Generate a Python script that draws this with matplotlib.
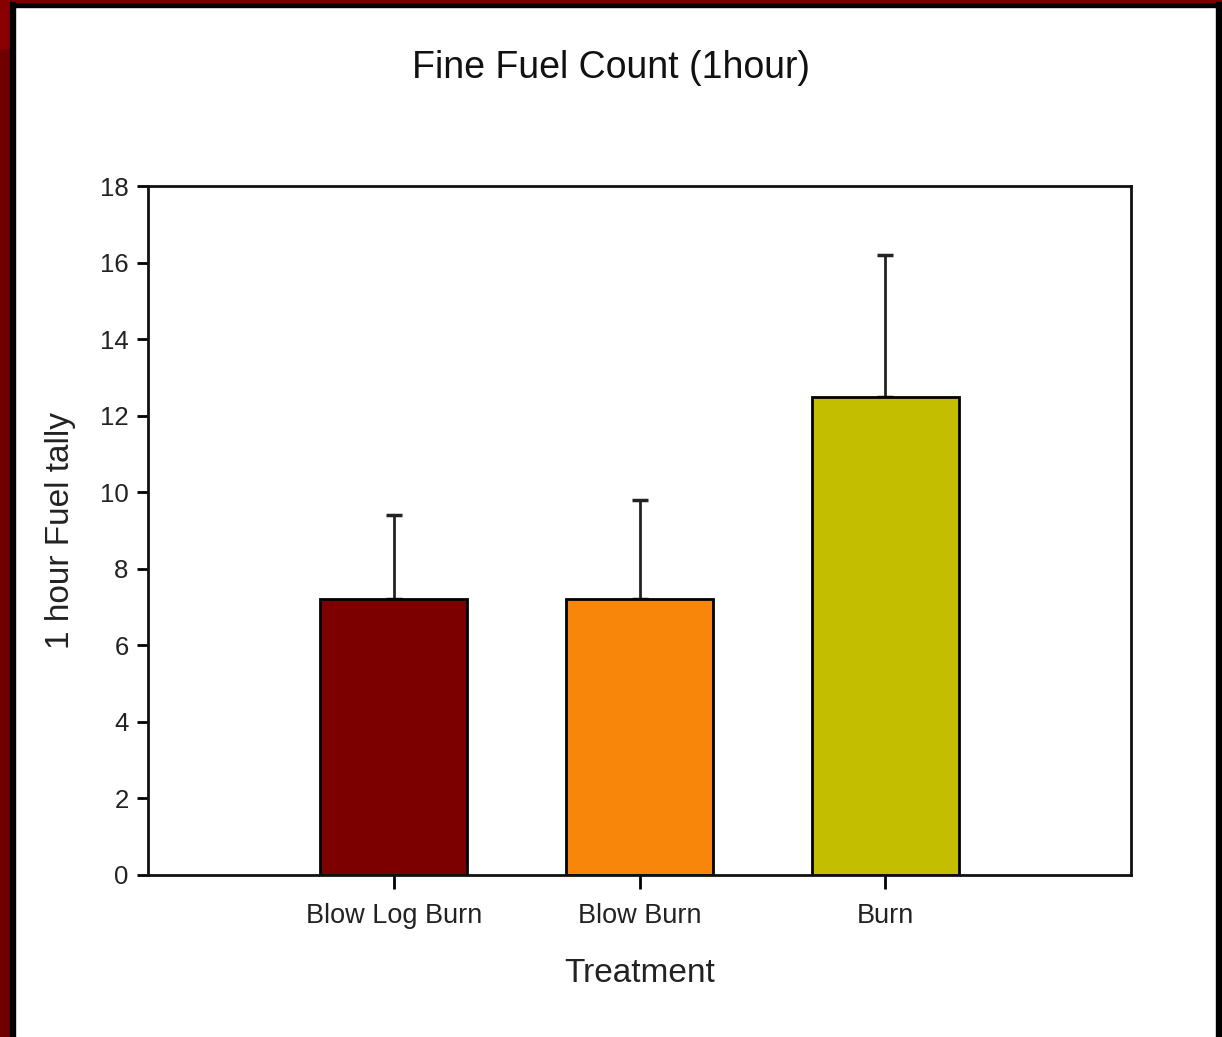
import matplotlib
matplotlib.use('Agg')
import matplotlib.pyplot as plt
from matplotlib.patches import Rectangle

treatments = ['Blow Log Burn', 'Blow Burn', 'Burn']
tally_mean = [7.2, 7.2, 12.5]
tally_err = [2.2, 2.6, 3.7]
bar_colors = ['#7d0000', '#f8860a', '#c3bf00']
y_ticks = [0, 2, 4, 6, 8, 10, 12, 14, 16, 18]

plt.rcParams['font.family'] = ['Liberation Sans', 'DejaVu Sans']

W, H = 1222, 1037
fig = plt.figure(figsize=(W / 100, H / 100), dpi=100, facecolor='white')
ax = fig.add_axes([148 / W, 1 - 875 / H, (1131 - 148) / W, (875 - 186) / H])

x = list(range(len(treatments)))
ax.bar(x, tally_mean, width=0.6, color=bar_colors, edgecolor='black',
       linewidth=2, zorder=2)
ax.errorbar(x, tally_mean, yerr=[[0] * len(x), tally_err], fmt='none',
            ecolor='#222222', elinewidth=2, capsize=6, capthick=2.5, zorder=1)

ax.set_xlim(-1, 3)
ax.set_ylim(0, 18)
ax.set_yticks(y_ticks)
ax.set_xticks(x)
ax.set_xticklabels(treatments)
for s in ax.spines.values():
    s.set_linewidth(2)
    s.set_color('#111111')
ax.tick_params(axis='y', direction='out', length=8, width=2, labelsize=18.5,
               pad=6, labelcolor='#222222')
ax.tick_params(axis='x', direction='out', length=10, width=2, labelsize=19.5,
               pad=10, labelcolor='#222222')

ax.set_xlabel('Treatment', fontsize=24, labelpad=21, color='#222222')
ax.set_ylabel('1 hour Fuel tally', fontsize=24, labelpad=17, color='#222222')
fig.text(611 / W, 1 - 68 / H, 'Fine Fuel Count (1hour)', fontsize=27,
         ha='center', va='center', color='#111111')

# frame around the slide
def px_rect(x0, y0, x1, y1, color):
    fig.patches.append(Rectangle((x0 / W, 1 - y1 / H), (x1 - x0) / W, (y1 - y0) / H,
                                 transform=fig.transFigure, color=color, zorder=10))

px_rect(0, 0, W, 7, 'black')
px_rect(0, 0, W, 2, '#7a0000')
px_rect(0, 0, 10, H, '#700000')
px_rect(0, 0, 10, 48, '#880000')
px_rect(10, 2, 15, H, 'black')
px_rect(1216, 2, W, H, 'black')

fig.savefig('out.png', dpi=100, facecolor='white')
